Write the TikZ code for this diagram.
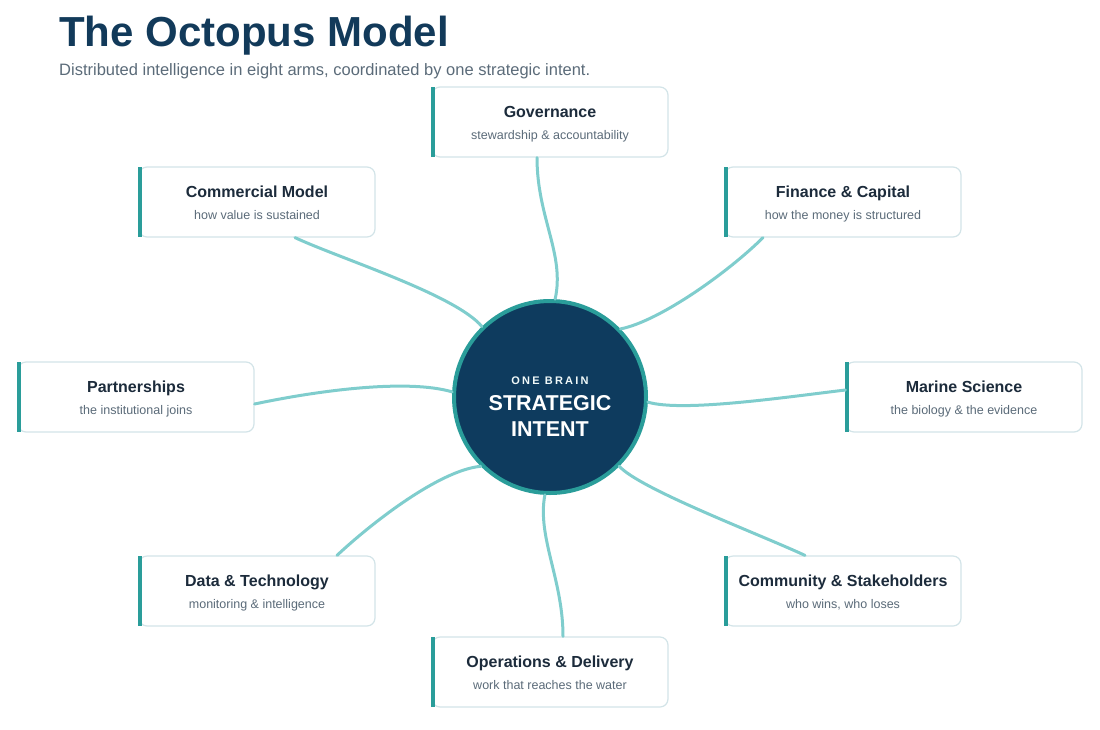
\documentclass[tikz,border=0pt]{standalone}
\usepackage{fontspec}
\setmainfont{Liberation Sans}
\newfontfamily\trackfont[LetterSpace=20]{Liberation Sans}
\usetikzlibrary{calc}
\definecolor{navy}{HTML}{123A5A}
\definecolor{brainfill}{HTML}{0E3B5E}
\definecolor{rimteal}{HTML}{2A9D9A}
\definecolor{armteal}{HTML}{7FCDCD}
\definecolor{boxline}{HTML}{D3E4E8}
\definecolor{ink}{HTML}{1C2B3B}
\definecolor{subgray}{HTML}{5B6B79}
\begin{document}
\begin{tikzpicture}[x=1pt,y=-1pt,
    armbox/.style={draw=boxline,line width=1.2pt,rounded corners=8pt,fill=white,
        minimum width=236pt,minimum height=70pt,inner sep=0pt},
    armtitle/.style={anchor=base,font=\bfseries\fontsize{16}{19}\selectfont,text=ink},
    armsub/.style={anchor=base,font=\fontsize{12.5}{15}\selectfont,text=subgray},
    arm/.style={draw=armteal,line width=3pt,line cap=round}]
    \useasboundingbox (0,0) rectangle (1100,729);
    % heading
    \node[anchor=base west,inner sep=0pt,text=navy,font=\bfseries\fontsize{42}{48}\selectfont] (head) at (59,46) {The Octopus Model};
    \node[anchor=base west,inner sep=0pt,text=subgray,font=\fontsize{16.5}{20}\selectfont] (tag) at (59,75) {Distributed intelligence in eight arms, coordinated by one strategic intent.};
    % the eight arms
    \foreach \n/\x/\y/\t/\s in {gov/550/122/Governance/stewardship \& accountability,
        com/257/202/Commercial Model/how value is sustained,
        fin/843/202/Finance \& Capital/how the money is structured,
        par/136/397/Partnerships/the institutional joins,
        mar/964/397/Marine Science/the biology \& the evidence,
        dat/257/591/Data \& Technology/monitoring \& intelligence,
        comm/843/591/Community \& Stakeholders/{who wins, who loses},
        ops/550/672/Operations \& Delivery/work that reaches the water}{
        \node[armbox] (\n) at (\x,\y) {};
        \fill[rimteal] ($(\n.north west)+(0,1)$) rectangle ($(\n.south west)+(4,-1)$);
        \node[armtitle] (\n-t) at (\x,\y-5) {\t};
        \node[armsub] (\n-s) at (\x,\y+17) {\s};
    }
    % the brain
    \node[circle,fill=brainfill,draw=rimteal,line width=4pt,minimum size=192pt,inner sep=0pt] (brain) at (550,397) {};
    \node[anchor=base,text=white!88!armteal,font=\trackfont\bfseries\fontsize{11}{13}\selectfont] (brain-a) at (550,384) {ONE BRAIN};
    \node[anchor=base,text=white,font=\bfseries\fontsize{21.5}{26}\selectfont] (brain-b) at (550,410) {STRATEGIC};
    \node[anchor=base,text=white,font=\bfseries\fontsize{21.5}{26}\selectfont] (brain-c) at (550,436) {INTENT};
    % arms to the brain
    \draw[arm] ($(gov.south)+(-13,0)$) .. controls +(0,60) and +(10,-45) .. (brain.87);
    \draw[arm] ($(com.south)+(38,0)$) .. controls +(45,21) and +(-27,-32) .. (brain.134);
    \draw[arm] ($(fin.south)+(-80,0)$) .. controls +(-33,33) and +(40,-8) .. (brain.44);
    \draw[arm] ($(par.east)+(0,7)$) .. controls +(66,-14) and +(-44,-13) .. (brain.177);
    \draw[arm] ($(mar.west)+(0,-7)$) .. controls +(-66,8) and +(34,10) .. (brain.-3);
    \draw[arm] ($(dat.north)+(80,0)$) .. controls +(33,-31) and +(-42,4) .. (brain.225);
    \draw[arm] ($(comm.north)+(-38,0)$) .. controls +(-45,-21) and +(21,23) .. (brain.-45);
    \draw[arm] ($(ops.north)+(13,0)$) .. controls +(0,-57) and +(-8,42) .. (brain.267);
\end{tikzpicture}
\end{document}
